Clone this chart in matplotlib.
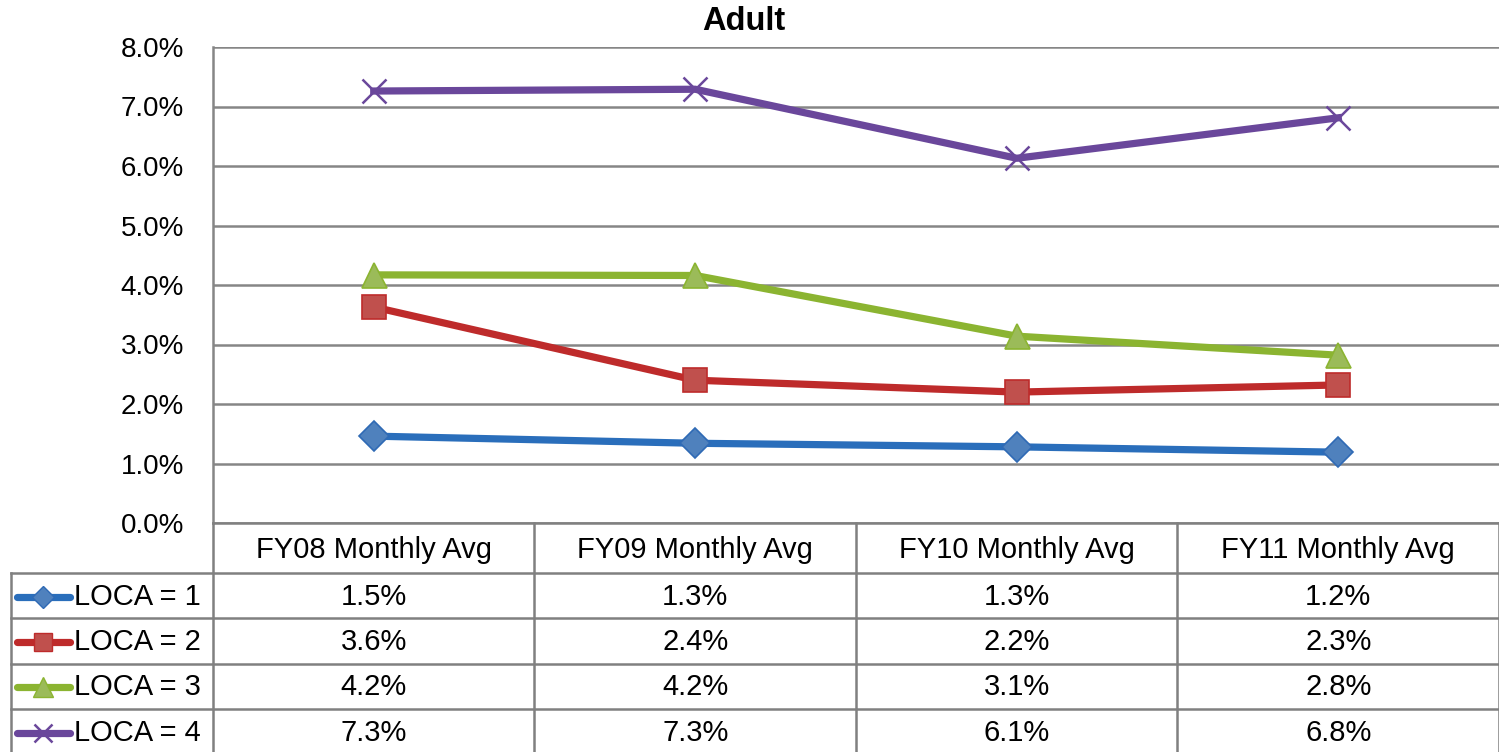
import matplotlib
matplotlib.use("Agg")
import matplotlib.pyplot as plt

plt.rcParams['font.family'] = ['Liberation Sans', 'DejaVu Sans']

categories = ["FY08 Monthly Avg", "FY09 Monthly Avg", "FY10 Monthly Avg", "FY11 Monthly Avg"]
series_names = ["LOCA = 1", "LOCA = 2", "LOCA = 3", "LOCA = 4"]
loca1 = [1.46, 1.34, 1.28, 1.19]
loca2 = [3.63, 2.40, 2.20, 2.32]
loca3 = [4.17, 4.16, 3.14, 2.82]
loca4 = [7.26, 7.29, 6.13, 6.81]
yticks = [0, 1, 2, 3, 4, 5, 6, 7, 8]

series = [loca1, loca2, loca3, loca4]
# line colour, marker, marker face, marker edge, marker size
styles = [
    ("#2A6EBB", "D", "#4F81BD", "#2F6AB5", 15),
    ("#BE2B2B", "s", "#C0504D", "#BE2B2B", 17),
    ("#8BB431", "^", "#9BBB59", "#8BB431", 18),
    ("#6A479B", "x", "#6A479B", "#6A479B", 17),
]

W, H = 1499, 752
fig = plt.figure(figsize=(W / 100, H / 100), dpi=100)

# plot area (pixels)
left, right, top, bottom = 213, 1499, 47, 523
ax = fig.add_axes([left / W, 1 - bottom / H, (right - left) / W, (bottom - top) / H])
x = list(range(len(categories)))
for vals, (lc, mk, fc, ec, ms) in zip(series, styles):
    ax.plot(x, vals, color=lc, lw=5.2, marker=mk, markersize=ms,
            markerfacecolor=fc, markeredgecolor=ec,
            markeredgewidth=1.8 if mk == "x" else 1.2, zorder=3, clip_on=False)

ax.set_xlim(-0.5, len(categories) - 0.5)
ax.set_ylim(0, 8)
ax.set_yticks(yticks)
ax.set_yticklabels([f"{t:.1f}%" for t in yticks], fontsize=20)
ax.set_xticks([])
ax.grid(axis="y", color="#868686", lw=1.8)
ax.set_axisbelow(True)
for s in ["top", "right", "bottom"]:
    ax.spines[s].set_visible(False)
ax.spines["left"].set_color("#868686")
ax.spines["left"].set_linewidth(1.8)
ax.tick_params(axis="y", length=0, pad=21)

fig.text(744 / W, 1 - 22 / H, "Adult", ha="center", va="center",
         fontsize=23.5, fontweight="bold")

# data table drawn in pixel coordinates
tax = fig.add_axes([0, 0, 1, 1])
tax.set_xlim(0, W)
tax.set_ylim(H, 0)
tax.axis("off")
gc, glw = "#808080", 1.8
col_w = (right - left) / len(categories)
header_bot = 573
row_h = 45.3
lab_left = 11
n_rows = len(series)
table_bot = header_bot + row_h * n_rows

# horizontal lines
tax.plot([left, right], [bottom, bottom], color=gc, lw=glw)
for i in range(n_rows + 1):
    yy = header_bot + i * row_h
    tax.plot([lab_left, right], [yy, yy], color=gc, lw=glw)
# vertical lines
tax.plot([lab_left, lab_left], [header_bot, table_bot], color=gc, lw=glw)
for j in range(len(categories) + 1):
    xx = left + j * col_w
    tax.plot([xx, xx], [bottom, table_bot], color=gc, lw=glw)

for j, cat in enumerate(categories):
    tax.text(left + (j + 0.5) * col_w, (bottom + header_bot) / 2 + 2, cat,
             ha="center", va="center", fontsize=21)

for i, (name, vals, (lc, mk, fc, ec, ms)) in enumerate(zip(series_names, series, styles)):
    yc = header_bot + (i + 0.5) * row_h + 1
    tax.plot([17, 70], [yc, yc], color=lc, lw=5.2, solid_capstyle="round")
    tax.plot([43], [yc], marker=mk, markersize=ms * 0.78, markerfacecolor=fc,
             markeredgecolor=ec, markeredgewidth=1.8 if mk == "x" else 1, color=lc)
    tax.text(74, yc, name, ha="left", va="center", fontsize=21)
    for j, v in enumerate(vals):
        tax.text(left + (j + 0.5) * col_w, yc, f"{v:.1f}%",
                 ha="center", va="center", fontsize=21)

fig.savefig("out.png", dpi=100)
